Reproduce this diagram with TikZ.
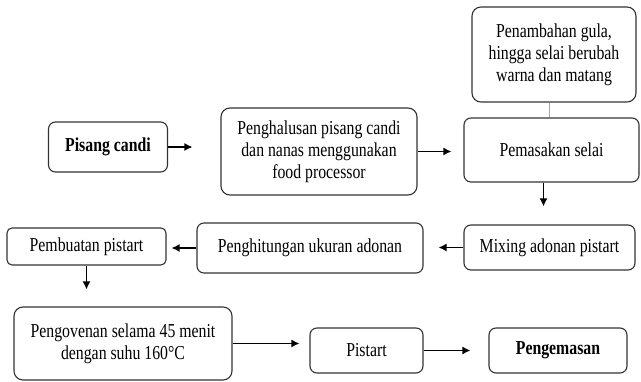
\documentclass[tikz,border=0pt]{standalone}
\usepackage{fontspec}
\setmainfont{Liberation Serif}[FakeStretch=0.8]
\usetikzlibrary{arrows.meta,positioning}

\begin{document}
\begin{tikzpicture}[x=1pt,y=-1pt,>={Latex[length=8pt,width=8pt]},font=\fontsize{19.75}{22}\selectfont]
    \tikzstyle{box}=[rectangle,draw=black!80,line width=1.1pt,rounded corners=7pt,align=center,inner sep=0]
    \tikzstyle{flow}=[->,line width=1.4pt]
    \useasboundingbox (0,0) rectangle (641,382);
    \node[box,minimum width=119pt,minimum height=50pt] (pisang) at (108,147) {\textbf{Pisang candi}} ;
    \node[box,minimum width=196pt,minimum height=87pt,rounded corners=9pt] (halus) at (319,151.5) {Penghalusan pisang candi\\dan nanas menggunakan\\food processor} ;
    \node[box,minimum width=164pt,minimum height=95pt,rounded corners=9pt] (tambah) at (554,54.5) {Penambahan gula,\\hingga selai berubah\\warna dan matang} ;
    \node[box,minimum width=175pt,minimum height=64pt] (masak) at (551.5,150) {Pemasakan selai} ;
    \node[box,minimum width=171pt,minimum height=45pt] (mixing) at (549.5,247.5) {Mixing adonan pistart} ;
    \node[box,minimum width=226pt,minimum height=50pt] (hitung) at (310,248) {Penghitungan ukuran adonan} ;
    \node[box,minimum width=159pt,minimum height=37pt,rounded corners=5pt] (buat) at (86.5,246.5) {Pembuatan pistart} ;
    \node[box,minimum width=218pt,minimum height=73pt,rounded corners=9pt] (oven) at (123,343.5) {Pengovenan selama 45 menit\\dengan suhu 160°C} ;
    \node[box,minimum width=113pt,minimum height=45pt] (pistart) at (366.5,350.5) {Pistart} ;
    \node[box,minimum width=138pt,minimum height=45pt] (kemas) at (558,350.5) {\textbf{Pengemasan}} ;
    \draw[flow,shorten >=28pt] (pisang.east) -- (pisang.east -| halus.west) ;
    \draw[flow,shorten >=12pt] (halus.east) -- (halus.east -| masak.west) ;
    \draw[gray!70,line width=0.8pt] ([xshift=-5pt]tambah.south) -- ([xshift=-5pt]tambah.south |- masak.north) ;
    \draw[flow,shorten >=18pt] ([xshift=-8pt]masak.south) -- ([xshift=-8pt]masak.south |- mixing.north) ;
    \draw[flow,shorten >=15pt] (mixing.west) -- (mixing.west -| hitung.east) ;
    \draw[flow,shorten >=5pt] (hitung.west) -- (hitung.west -| buat.east) ;
    \draw[flow,shorten >=17pt] (buat.south) -- (buat.south |- oven.north) ;
    \draw[flow,shorten >=10pt] (oven.east) -- (oven.east -| pistart.west) ;
    \draw[flow,shorten >=18pt] (pistart.east) -- (kemas.west) ;
\end{tikzpicture}
\end{document}
